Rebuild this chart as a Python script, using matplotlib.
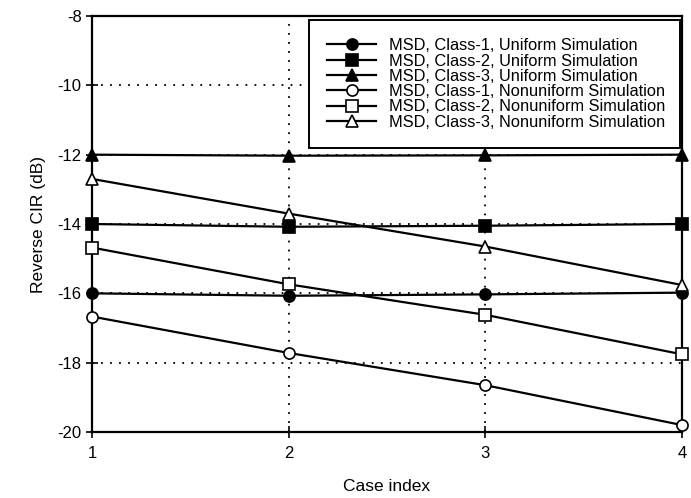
import numpy as np
import matplotlib.pyplot as plt

plt.rcParams['font.family'] = ['Liberation Sans', 'DejaVu Sans']
plt.rcParams['axes.unicode_minus'] = False

case_index = [1, 2, 3, 4]

# MSD reverse CIR (dB)
uni_class1 = [-16.0, -16.07, -16.03, -15.98]
uni_class2 = [-14.0, -14.08, -14.05, -14.0]
uni_class3 = [-12.0, -12.03, -12.02, -12.0]
nonuni_class1 = [-16.67, -17.72, -18.65, -19.8]
nonuni_class2 = [-14.68, -15.74, -16.62, -17.76]
nonuni_class3 = [-12.7, -13.7, -14.65, -15.76]

labels = ['MSD, Class-1, Uniform Simulation',
          'MSD, Class-2, Uniform Simulation',
          'MSD, Class-3, Uniform Simulation',
          'MSD, Class-1, Nonuniform Simulation',
          'MSD, Class-2, Nonuniform Simulation',
          'MSD, Class-3, Nonuniform Simulation']

fig = plt.figure(figsize=(6.91, 4.98), dpi=100)
ax = fig.add_axes([92/691, 1-432/498, 590/691, 416/498])

series = [(uni_class1, 'o', 'black'), (uni_class2, 's', 'black'), (uni_class3, '^', 'black'),
          (nonuni_class1, 'o', 'white'), (nonuni_class2, 's', 'white'), (nonuni_class3, '^', 'white')]
for (vals, mk, fc), lab in zip(series, labels):
    ax.plot(case_index, vals, color='black', lw=1.6, marker=mk, markersize=8,
            markerfacecolor=fc, markeredgecolor='black', markeredgewidth=1.2,
            label=lab, clip_on=False, zorder=3)

ax.set_xlim(1, 4)
ax.set_ylim(-20, -8)
ax.set_xticks(case_index)
ax.set_yticks(np.arange(-20, -7, 2))
ax.grid(True, color='black', linestyle=(0, (1, 4)), lw=1.3)
ax.tick_params(direction='inout', length=8, width=1.2, labelsize=12, colors='black')
ax.tick_params(axis='x', pad=6)
for s in ax.spines.values():
    s.set_linewidth(1.6)

ax.set_xlabel('Case index', fontsize=12.5, labelpad=13)
ax.set_ylabel('Reverse CIR (dB)', fontsize=12.5, labelpad=8)

leg = ax.legend(loc='upper left', fontsize=11.8, handlelength=3.0, labelspacing=0.02,
                borderpad=1.1, handletextpad=0.8, fancybox=False, framealpha=1,
                edgecolor='black', mode='expand', borderaxespad=0,
                bbox_to_anchor=(0.368, 0, 0.629, 0.99))
leg.get_frame().set_linewidth(1.4)

fig.savefig('out.png', dpi=100)
